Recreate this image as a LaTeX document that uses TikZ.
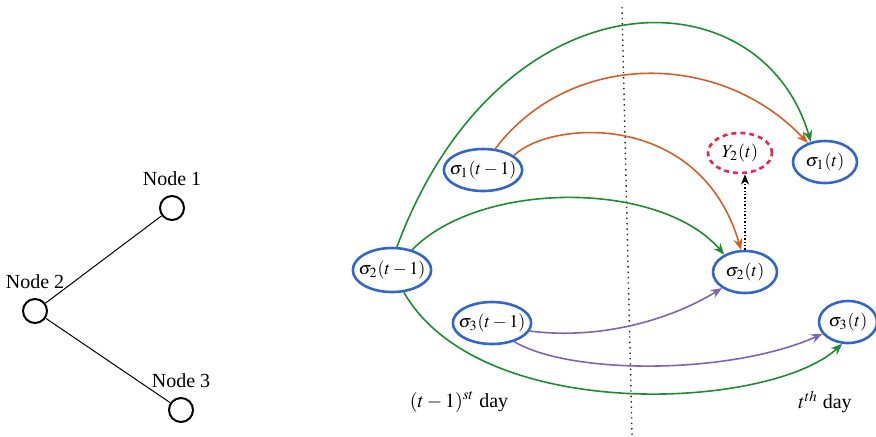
\documentclass[tikz,border=0pt]{standalone}
\usepackage{mathptmx}
\usepackage{fontspec}
\setmainfont{Liberation Serif}
\usepackage{tikz}
\usetikzlibrary{arrows.meta,shapes.geometric,positioning,calc}
\definecolor{stGreen}{HTML}{1E8C32}
\definecolor{stOrange}{HTML}{D2602A}
\definecolor{stPurple}{HTML}{7F63B8}
\definecolor{stBlue}{HTML}{3366CC}
\definecolor{stRed}{HTML}{E8254F}
\tikzset{
  graphnode/.style={draw, circle, line width=1pt, minimum size=12pt, inner sep=0pt},
  graphlabel/.style={font=\normalsize},
  graphedge/.style={line width=0.5pt},
  state/.style={draw=stBlue, ellipse, line width=1.3pt, minimum width=35pt, minimum height=21pt,
    inner xsep=-2.8pt, inner ysep=0pt, font=\small},
  obs/.style={state, draw=stRed, dashed, dash pattern=on 2.5pt off 2pt},
  greenflow/.style={-{Stealth[length=2mm, width=1.6mm]}, line width=0.8pt, stGreen},
  orangeflow/.style={-{Stealth[length=2mm, width=1.6mm]}, line width=0.8pt, stOrange},
  purpleflow/.style={-{Stealth[length=2mm, width=1.6mm]}, line width=0.8pt, stPurple},
  emitflow/.style={-{Stealth[length=1.8mm, width=1.4mm]}, line width=0.7pt, densely dotted},
  divider/.style={line width=0.7pt, dotted, black!85},
  daylabel/.style={font=\normalsize}
}
\begin{document}
\begin{tikzpicture}[x=0.5pt, y=-0.5pt]
  \useasboundingbox (0,0) rectangle (876,436);

  % network
  \node[graphnode] (n1) at (172,208) {};
  \node[graphnode] (n2) at (35,311) {};
  \node[graphnode] (n3) at (181,410) {};
  \node[graphlabel, above=1pt of n1] (l1) {Node 1};
  \node[graphlabel, above=1pt of n2] (l2) {Node 2};
  \node[graphlabel, above=1pt of n3] (l3) {Node 3};
  \draw[graphedge] (n2) -- (n1);
  \draw[graphedge] (n2) -- (n3);

  % day boundary
  \coordinate (dtop) at (622,7);
  \coordinate (dbot) at (632,436);
  \draw[divider] (dtop) -- (dbot);

  % states
  \node[state] (s1p) at (483,170) {$\sigma_1(t-1)$};
  \node[state, minimum height=22pt] (s2p) at (392,270) {$\sigma_2(t-1)$};
  \node[state] (s3p) at (492,323) {$\sigma_3(t-1)$};
  \node[state, minimum width=32pt] (s1t) at (825,162) {$\sigma_1(t)$};
  \node[state, minimum width=32pt] (s2t) at (745,272) {$\sigma_2(t)$};
  \node[state, minimum width=29pt] (s3t) at (848,322) {$\sigma_3(t)$};
  \node[obs, minimum width=32pt, minimum height=20pt] (y2) at (740,153) {$Y_2(t)$};

  % transitions
  \draw[greenflow] (s2p.78) .. controls (500,-30) and (760,-30) .. (s1t.125);
  \draw[greenflow] (s2p.45) .. controls (480,180) and (660,180) .. (s2t.140);
  \draw[greenflow] (s2p.-62) .. controls (480,425) and (770,410) .. (s3t.255);
  \draw[orangeflow] (s1p.60) .. controls (570,50) and (720,50) .. (s1t.132);
  \draw[orangeflow] (s1p.25) .. controls (550,120) and (700,110) .. (s2t.100);
  \draw[purpleflow] (s3p.-12) .. controls (600,340) and (670,320) .. (s2t.215);
  \draw[purpleflow] (s3p.-40) .. controls (570,375) and (730,375) .. (s3t.205);
  \draw[emitflow] (s2t.north) -- (s2t.north |- y2.south);

  % days
  \node[daylabel] (dprev) at (459,402) {$(t-1)^{st}$ day};
  \node[daylabel] (dcur) at (825,402) {$t^{th}$ day};
\end{tikzpicture}
\end{document}
